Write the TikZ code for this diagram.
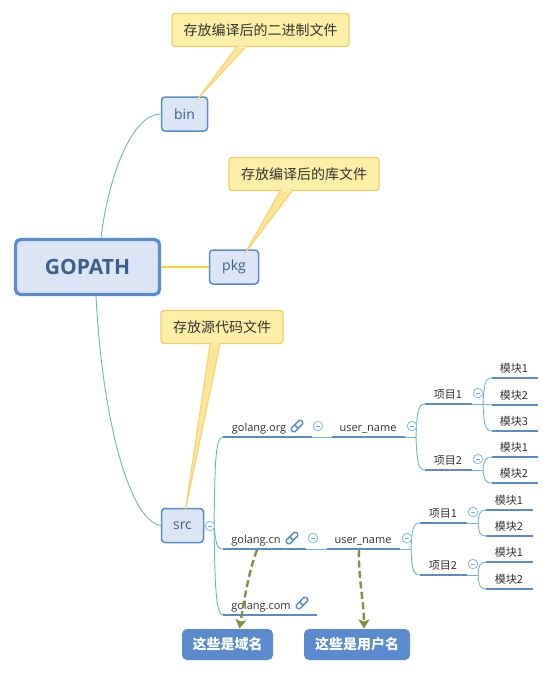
\documentclass[tikz,border=0pt]{standalone}
\usepackage{fontspec}
\setmainfont{Open Sans}
\newfontfamily\cjk{Noto Sans CJK SC}
\usetikzlibrary{arrows.meta, calc}
\definecolor{cblue}{HTML}{5A8BCF}
\definecolor{cfill}{HTML}{DCE5F3}
\definecolor{cnavy}{HTML}{3C5F92}
\definecolor{cteal}{HTML}{62BDB8}
\definecolor{cthin}{HTML}{6DB4CC}
\definecolor{cyellow}{HTML}{F2D52E}
\definecolor{cnote}{HTML}{FDEFA6}
\definecolor{cnoteline}{HTML}{F1CE6C}
\definecolor{ctail}{HTML}{F6D26A}
\definecolor{colive}{HTML}{7A9440}
\definecolor{ctext}{HTML}{333333}
\tikzset{
  every picture/.style={font=\fontsize{12}{14}\selectfont, line width=1pt},
  root/.style={draw=cblue, fill=cfill, line width=3.2pt, rounded corners=5pt, minimum width=144pt, minimum height=55pt, text=cnavy, font=\fontsize{21}{24}\selectfont\bfseries},
  sub/.style={draw=cblue, fill=cfill, line width=1.5pt, rounded corners=3.5pt, minimum height=34pt, inner sep=0pt, text=cnavy, font=\fontsize{14}{16}\selectfont},
  note/.style={draw=cnoteline, fill=cnote, line width=1.4pt, rounded corners=3pt, minimum height=33pt, inner sep=0pt, text=ctext, font=\fontsize{14}{16}\selectfont\cjk},
  tail/.style={draw=ctail, fill=cnote!70!ctail, line width=1pt, line join=round},
  seam/.style={draw=cnote, line width=1.6pt},
  stem/.style={draw=cteal, line width=.9pt},
  thin/.style={draw=cthin, line width=.9pt},
  under/.style={draw=cblue, line width=2.4pt},
  topic/.style={text=ctext, inner sep=0pt, anchor=base, font=\fontsize{11}{13}\selectfont},
  fold/.style={circle, draw=cthin!80, fill=white, line width=.9pt, minimum size=9.5pt, inner sep=0pt,
    path picture={\draw[cthin, line width=.7pt] ([xshift=-2pt]path picture bounding box.center) -- ([xshift=2pt]path picture bounding box.center);}},
  tag/.style={fill=cblue, rounded corners=5pt, minimum height=31pt, inner sep=0pt, text=white, font=\fontsize{14}{16}\selectfont\cjk\bfseries},
  remark/.style={-{Stealth[length=9pt, width=11pt, inset=2pt, fill=colive]}, draw=colive, line width=2.4pt, dash pattern=on 7pt off 3.5pt},
}
% topic: name, text x, line from, line to, line y, text
\newcommand{\topicline}[6]{
  \node[topic] (#1) at (#2,#5-6) {#6};
  \coordinate (#1-l) at (#3,#5);
  \coordinate (#1-r) at (#4,#5);
  \draw[under] (#1-l) -- (#1-r);
}
% link icon at x, y
\newcommand{\chainicon}[2]{
  \begin{scope}[shift={(#1,#2)}, rotate=45, cblue, line width=1.5pt]
    \draw[fill=white, rounded corners=1.8pt] (-7,-2.6) rectangle (1,2.6);
    \draw[fill=white, rounded corners=1.8pt] (-1,-2.6) rectangle (7,2.6);
  \end{scope}
}
\begin{document}
\begin{tikzpicture}[x=1pt, y=-1pt]
  \useasboundingbox (0,0) rectangle (554,675);

  % stems from the root
  \node[root] (gopath) at (87.5,267) {GOPATH};
  \node[sub, minimum width=46pt] (bin) at (184.5,114) {bin};
  \node[sub, minimum width=49pt] (pkg) at (234,267) {pkg};
  \node[sub, minimum width=42pt] (src) at (182.5,525.5) {src};
  \draw[stem] ([xshift=13.5pt]gopath.north) .. controls +(8,-65) and +(-28,0) .. (bin.west);
  \draw[stem] ([xshift=8.5pt]gopath.south) .. controls +(6,120) and +(-32,-5) .. (src.west);
  \draw[draw=cyellow, line width=1.2pt] (gopath.east) -- (pkg.west);

  % notes
  \node[note, minimum width=177pt] (binnote) at (260.5,30) {存放编译后的二进制文件};
  \node[note, minimum width=150pt] (pkgnote) at (304,174) {存放编译后的库文件};
  \node[note, minimum width=122pt] (srcnote) at (222,327) {存放源代码文件};
  \draw[tail] ([xshift=-24pt]binnote.south) -- ([xshift=13pt,yshift=-3pt]bin.north) -- ([xshift=-15pt]binnote.south);
  \draw[seam] ([xshift=-23pt]binnote.south) -- ([xshift=-16pt]binnote.south);
  \draw[tail] ([xshift=-24pt]pkgnote.south) -- ([xshift=11pt,yshift=-4pt]pkg.north) -- ([xshift=-12pt]pkgnote.south);
  \draw[seam] ([xshift=-23pt]pkgnote.south) -- ([xshift=-13pt]pkgnote.south);
  \draw[tail] ([xshift=-12pt]srcnote.south) -- ([xshift=3pt,yshift=-2pt]src.north) -- ([xshift=-2pt]srcnote.south);
  \draw[seam] ([xshift=-11pt]srcnote.south) -- ([xshift=-3pt]srcnote.south);

  % golang.org
  \topicline{org}{259}{223}{312}{437}{golang.org}
  \topicline{orguser}{368}{332}{405}{437}{user\_name}
  \topicline{orgpa}{448}{425}{472}{404}{\cjk 项目1}
  \topicline{orgpb}{448}{425}{472}{470}{\cjk 项目2}
  \topicline{orgaa}{514}{492}{538}{378}{\cjk 模块1}
  \topicline{orgab}{514}{492}{538}{405}{\cjk 模块2}
  \topicline{orgac}{514}{492}{538}{431}{\cjk 模块3}
  \topicline{orgba}{514}{492}{538}{457}{\cjk 模块1}
  \topicline{orgbb}{514}{492}{538}{483}{\cjk 模块2}

  % golang.cn
  \topicline{cn}{256}{223}{306}{549}{golang.cn}
  \topicline{cnuser}{363}{327}{400}{549}{user\_name}
  \topicline{cnpa}{443}{420}{467}{523}{\cjk 项目1}
  \topicline{cnpb}{443}{420}{467}{575}{\cjk 项目2}
  \topicline{cnaa}{509}{486}{533}{510}{\cjk 模块1}
  \topicline{cnab}{509}{486}{533}{536}{\cjk 模块2}
  \topicline{cnba}{509}{486}{533}{562}{\cjk 模块1}
  \topicline{cnbb}{509}{486}{533}{589}{\cjk 模块2}

  % golang.com
  \topicline{com}{261}{223}{317}{615}{golang.com}

  % thin joints
  \coordinate (srcroot) at (214,526);
  \draw[stem] (src.east) -- (srcroot);
  \draw[stem] (srcroot) .. controls +(1,-60) and +(-8,0) .. (org-l);
  \draw[stem] (srcroot) .. controls +(2,16) and +(-7,0) .. (cn-l);
  \draw[stem] (srcroot) .. controls +(1,50) and +(-8,0) .. (com-l);
  \draw[thin] (org-r) -- (orguser-l);
  \draw[thin] (cn-r) -- (cnuser-l);
  \draw[thin] (orguser-r) -- +(11,0) coordinate (orgjoin);
  \draw[thin] (orgjoin) .. controls +(1,-25) and +(-7,0) .. (orgpa-l);
  \draw[thin] (orgjoin) .. controls +(1,25) and +(-7,0) .. (orgpb-l);
  \draw[thin] (orgpa-r) -- +(11,0) coordinate (orgjoina);
  \draw[thin] (orgjoina) .. controls +(1,-20) and +(-7,0) .. (orgaa-l);
  \draw[thin] (orgjoina) -- (orgab-l);
  \draw[thin] (orgjoina) .. controls +(1,20) and +(-7,0) .. (orgac-l);
  \draw[thin] (orgpb-r) -- +(11,0) coordinate (orgjoinb);
  \draw[thin] (orgjoinb) .. controls +(1,-10) and +(-6,0) .. (orgba-l);
  \draw[thin] (orgjoinb) .. controls +(1,10) and +(-6,0) .. (orgbb-l);
  \draw[thin] (cnuser-r) -- +(11,0) coordinate (cnjoin);
  \draw[thin] (cnjoin) .. controls +(1,-20) and +(-7,0) .. (cnpa-l);
  \draw[thin] (cnjoin) .. controls +(1,20) and +(-7,0) .. (cnpb-l);
  \draw[thin] (cnpa-r) -- +(11,0) coordinate (cnjoina);
  \draw[thin] (cnjoina) .. controls +(1,-10) and +(-6,0) .. (cnaa-l);
  \draw[thin] (cnjoina) .. controls +(1,10) and +(-6,0) .. (cnab-l);
  \draw[thin] (cnpb-r) -- +(11,0) coordinate (cnjoinb);
  \draw[thin] (cnjoinb) .. controls +(1,-10) and +(-6,0) .. (cnba-l);
  \draw[thin] (cnjoinb) .. controls +(1,10) and +(-6,0) .. (cnbb-l);

  % fold marks
  \node[fold] (srcfold) at (210,526) {};
  \node[fold] (orgfold) at (318,426) {};
  \node[fold] (cnfold) at (313,538) {};
  \node[fold] (orguserfold) at (412,426) {};
  \node[fold] (orgpafold) at (478,393) {};
  \node[fold] (orgpbfold) at (478,459) {};
  \node[fold] (cnuserfold) at (407,538) {};
  \node[fold] (cnpafold) at (473,512) {};
  \node[fold] (cnpbfold) at (473,564) {};

  \chainicon{297}{426}
  \chainicon{292}{538}
  \chainicon{302}{603}

  % remarks
  \node[tag, minimum width=91pt] (domain) at (227.5,644.5) {这些是域名};
  \node[tag, minimum width=106pt] (username) at (357,644.5) {这些是用户名};
  \coordinate (cnmark) at (257,550);
  \coordinate (usermark) at (359,550);
  \draw[remark] (cnmark) .. controls +(-8,20) and +(4,-25) .. ([xshift=12pt]domain.north);
  \draw[remark] (usermark) .. controls +(-1,25) and +(0,-25) .. ([xshift=7pt]username.north);
\end{tikzpicture}
\end{document}
